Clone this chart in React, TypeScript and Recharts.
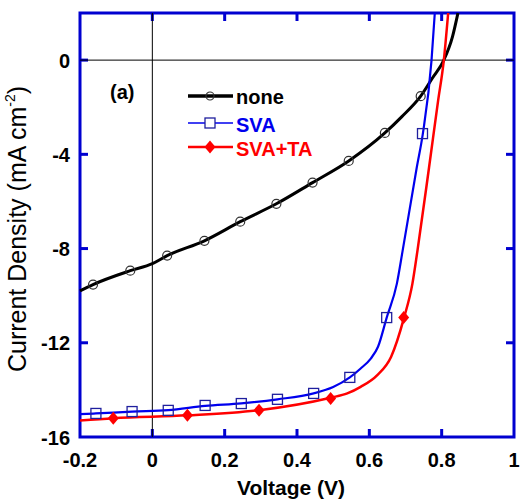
import React from 'react';
import {
  ComposedChart,
  Line,
  XAxis,
  YAxis,
  ReferenceLine,
  ReferenceArea
} from 'recharts';

const FRAME = '#0000d0';
const FONT = '"Liberation Sans", Arial, sans-serif';

const xTicks = [-0.2, 0, 0.2, 0.4, 0.6, 0.8, 1];
const yTicks = [-16, -12, -8, -4, 0];
const xInner = [0, 0.2, 0.4, 0.6, 0.8];
const yInner = [-12, -8, -4, 0];

// curves (voltage in V, current density in mA cm-2)
const noneV = [-0.2, -0.164, -0.061, 0, 0.041, 0.144, 0.243, 0.343, 0.443, 0.543, 0.643, 0.69, 0.742, 0.775, 0.806, 0.83, 0.845];
const noneJ = [-9.8, -9.53, -8.94, -8.64, -8.3, -7.67, -6.86, -6.1, -5.2, -4.28, -3.09, -2.4, -1.53, -0.75, 0, 1.0, 2.0];

const svaV = [-0.2, -0.156, -0.056, 0.044, 0.146, 0.246, 0.346, 0.446, 0.5, 0.546, 0.576, 0.604, 0.624, 0.648, 0.676, 0.692, 0.731, 0.748, 0.772, 0.781];
const svaJ = [-15.03, -15.0, -14.92, -14.86, -14.68, -14.57, -14.4, -14.15, -13.88, -13.47, -13.09, -12.67, -12.17, -10.93, -9.5, -8.1, -4.57, -3.12, 0, 2.0];

const svaTaV = [-0.2, -0.108, 0.097, 0.295, 0.493, 0.539, 0.576, 0.622, 0.66, 0.696, 0.719, 0.733, 0.765, 0.79, 0.806, 0.818];
const svaTaJ = [-15.3, -15.2, -15.08, -14.86, -14.33, -14.15, -13.87, -13.37, -12.6, -10.93, -9.5, -8.1, -4.57, -1.74, 0, 2.0];

// measured points (markers)
const noneMarkV = [-0.164, -0.061, 0.041, 0.144, 0.243, 0.343, 0.443, 0.543, 0.643, 0.742];
const noneMarkJ = [-9.53, -8.94, -8.3, -7.67, -6.86, -6.1, -5.2, -4.28, -3.09, -1.53];

const svaMarkV = [-0.156, -0.056, 0.044, 0.146, 0.246, 0.346, 0.446, 0.546, 0.648, 0.747];
const svaMarkJ = [-15.0, -14.92, -14.87, -14.66, -14.58, -14.4, -14.15, -13.47, -10.93, -3.12];

const svaTaMarkV = [-0.108, 0.097, 0.295, 0.493, 0.695];
const svaTaMarkJ = [-15.2, -15.08, -14.86, -14.37, -10.93];

const toPoints = (v: number[], j: number[]) => v.map((x, i) => ({ x, y: j[i] }));

const BottomTick = ({ x, y, payload }: any) => (
  <text x={x} y={y + 30} textAnchor="middle" fontSize={20} fontWeight="bold" fontFamily={FONT} fill="#000">
    {payload.value}
  </text>
);

const LeftTick = ({ x, y, payload }: any) => (
  <text x={x - 10} y={y + 7.5} textAnchor="end" fontSize={20} fontWeight="bold" fontFamily={FONT} fill="#000">
    {payload.value}
  </text>
);

// inward tick marks on top + bottom edges
const VTicks = (props: any) => {
  const { x1, y1, y2 } = props;
  const top = Math.min(y1, y2);
  const bottom = Math.max(y1, y2);
  return (
    <g>
      <line x1={x1} y1={top} x2={x1} y2={top + 8} stroke={FRAME} strokeWidth={3} />
      <line x1={x1} y1={bottom} x2={x1} y2={bottom - 8} stroke={FRAME} strokeWidth={3} />
    </g>
  );
};

// inward tick marks on left + right edges
const HTicks = (props: any) => {
  const { x1, x2, y1 } = props;
  const left = Math.min(x1, x2);
  const right = Math.max(x1, x2);
  return (
    <g>
      <line x1={left} y1={y1} x2={left + 8} y2={y1} stroke={FRAME} strokeWidth={3} />
      <line x1={right} y1={y1} x2={right - 8} y2={y1} stroke={FRAME} strokeWidth={3} />
    </g>
  );
};

const CircleDot = ({ cx, cy }: any) => (
  <circle cx={cx} cy={cy} r={4.5} fill="none" stroke="#333" strokeWidth={1.2} />
);

const SquareDot = ({ cx, cy }: any) => (
  <rect x={cx - 5} y={cy - 5} width={10} height={10} fill="none" stroke="#1f1f9e" strokeWidth={1.3} />
);

const DiamondDot = ({ cx, cy }: any) => (
  <path d={`M${cx},${cy - 6.5}L${cx + 5.5},${cy}L${cx},${cy + 6.5}L${cx - 5.5},${cy}Z`} fill="#ff0000" />
);

// titles, panel tag and legend, laid over the chart
const Overlay = () => (
  <svg width={520} height={502} style={{ position: 'absolute', left: 0, top: 0, pointerEvents: 'none' }}>
    <text x={291} y={495} textAnchor="middle" fontSize={21} fontWeight="bold" fontFamily={FONT} fill="#000">
      Voltage (V)
    </text>
    <text x={26} y={229} transform="rotate(-90, 26, 229)" textAnchor="middle" fontSize={25} fontFamily={FONT} fill="#000">
      Current Density (mA cm
      <tspan fontSize={14} dy={-11}>-2</tspan>
      <tspan dy={11}>)</tspan>
    </text>
    <text x={110} y={99} fontSize={20} fontWeight="bold" fontFamily={FONT} fill="#000">(a)</text>

    <g transform="translate(185, 85)">
      <line x1={3} y1={11} x2={48} y2={11} stroke="#000" strokeWidth={3.5} />
      <circle cx={25} cy={11} r={4} fill="none" stroke="#333" strokeWidth={1.2} />
      <text x={51} y={19} fontSize={20} fontWeight="bold" fontFamily={FONT} fill="#000">none</text>

      <line x1={3} y1={38} x2={48} y2={38} stroke="#0000ee" strokeWidth={1.5} />
      <rect x={20} y={33} width={10} height={10} fill="#fff" stroke="#1f1f9e" strokeWidth={1.3} />
      <text x={51} y={47} fontSize={20} fontWeight="bold" fontFamily={FONT} fill="#0000ee">SVA</text>

      <line x1={3} y1={62} x2={48} y2={62} stroke="#ff0000" strokeWidth={2.5} />
      <path d="M25,55.5L30.5,62L25,68.5L19.5,62Z" fill="#ff0000" />
      <text x={51} y={71} fontSize={20} fontWeight="bold" fontFamily={FONT} fill="#ff0000">SVA+TA</text>
    </g>
  </svg>
);

const App = () => {
  return (
    <div style={{ position: 'absolute', left: 0, top: 0, width: 520, height: 502, background: '#fff' }}>
      <ComposedChart width={520} height={502} margin={{ top: 13, right: 6, bottom: 25, left: 0 }}>
        <XAxis
          dataKey="x"
          type="number"
          domain={[-0.2, 1]}
          ticks={xTicks}
          height={40}
          axisLine={false}
          tickLine={false}
          tickSize={0}
          tickMargin={0}
          tick={<BottomTick />}
          interval={0}
        />
        <YAxis
          dataKey="y"
          type="number"
          domain={[-16, 2]}
          ticks={yTicks}
          width={80}
          axisLine={false}
          tickLine={false}
          tickSize={0}
          tickMargin={0}
          tick={<LeftTick />}
          interval={0}
        />

        <ReferenceArea x1={-0.2} x2={1} y1={-16} y2={2} fill="none" stroke={FRAME} strokeWidth={3} />
        {xInner.map((t) => (
          <ReferenceLine key={`vx${t}`} x={t} shape={<VTicks />} />
        ))}
        {yInner.map((t) => (
          <ReferenceLine key={`hy${t}`} y={t} shape={<HTicks />} />
        ))}
        <ReferenceLine x={0} stroke="#000" strokeWidth={1} />
        <ReferenceLine y={0} stroke="#000" strokeWidth={1} />

        <Line data={toPoints(noneV, noneJ)} dataKey="y" type="monotone" stroke="#000" strokeWidth={3}
          dot={false} activeDot={false} isAnimationActive={false} />
        <Line data={toPoints(svaV, svaJ)} dataKey="y" type="monotone" stroke="#0000ee" strokeWidth={2.2}
          dot={false} activeDot={false} isAnimationActive={false} />
        <Line data={toPoints(svaTaV, svaTaJ)} dataKey="y" type="monotone" stroke="#ff0000" strokeWidth={2.5}
          dot={false} activeDot={false} isAnimationActive={false} />

        <Line data={toPoints(noneMarkV, noneMarkJ)} dataKey="y" stroke="none"
          dot={<CircleDot />} activeDot={false} isAnimationActive={false} />
        <Line data={toPoints(svaMarkV, svaMarkJ)} dataKey="y" stroke="none"
          dot={<SquareDot />} activeDot={false} isAnimationActive={false} />
        <Line data={toPoints(svaTaMarkV, svaTaMarkJ)} dataKey="y" stroke="none"
          dot={<DiamondDot />} activeDot={false} isAnimationActive={false} />
      </ComposedChart>
      <Overlay />
    </div>
  );
};

export default App;
